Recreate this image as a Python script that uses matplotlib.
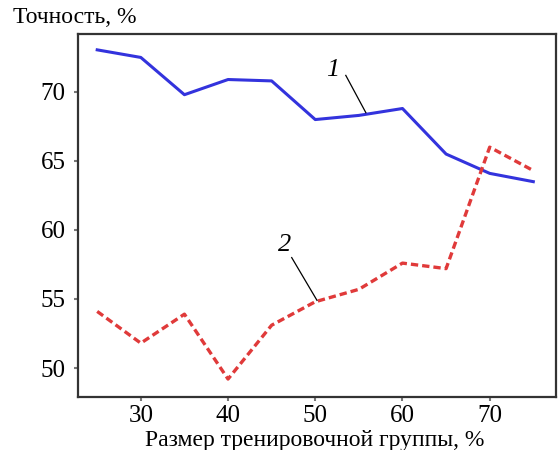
import matplotlib
matplotlib.use('Agg')
import matplotlib.pyplot as plt

# training set size, % and accuracy, %
train_size = [25, 30, 35, 40, 45, 50, 55, 60, 65, 70, 75]
acc_1 = [73.05, 72.5, 69.8, 70.9, 70.8, 68.0, 68.3, 68.8, 65.5, 64.1, 63.5]
acc_2 = [54.1, 51.8, 53.9, 49.2, 53.1, 54.8, 55.7, 57.6, 57.2, 66.0, 64.3]

plt.rcParams['font.family'] = ['Liberation Serif', 'DejaVu Serif']

fig = plt.figure(figsize=(5.58, 4.5), dpi=100)
ax = fig.add_axes([0.1398, 0.1178, 0.8566, 0.8067])

ax.plot(train_size, acc_1, color='#3333dd', lw=2.2)
ax.plot(train_size, acc_2, color='#e03a3a', lw=2.4, ls=(0, (2.2, 1.2)))

ax.set_xlim(22.8, 77.6)
ax.set_ylim(47.9, 74.2)
ax.set_xticks([30, 40, 50, 60, 70])
ax.set_yticks([50, 55, 60, 65, 70])
ax.tick_params(direction='out', length=3, width=1.5, color='#777777',
               labelsize=18)
ax.tick_params(axis='x', pad=3)
ax.tick_params(axis='y', pad=6)

for s in ax.spines.values():
    s.set_linewidth(1.6)
    s.set_color('#333333')

# curve labels with leader lines
ax.text(52.0, 71.6, '1', fontsize=19, style='italic', ha='center', va='center')
ax.plot([53.5, 55.8], [71.2, 68.5], color='black', lw=0.9)
ax.text(46.5, 58.9, '2', fontsize=19, style='italic', ha='center', va='center')
ax.plot([47.3, 50.2], [58.0, 54.9], color='black', lw=0.9)

fig.text(0.023, 0.962, 'Точность, %', fontsize=17, ha='left', va='center')
fig.text(0.564, 0.022, 'Размер тренировочной группы, %', fontsize=17,
         ha='center', va='center')

fig.savefig('out.png', dpi=100)
